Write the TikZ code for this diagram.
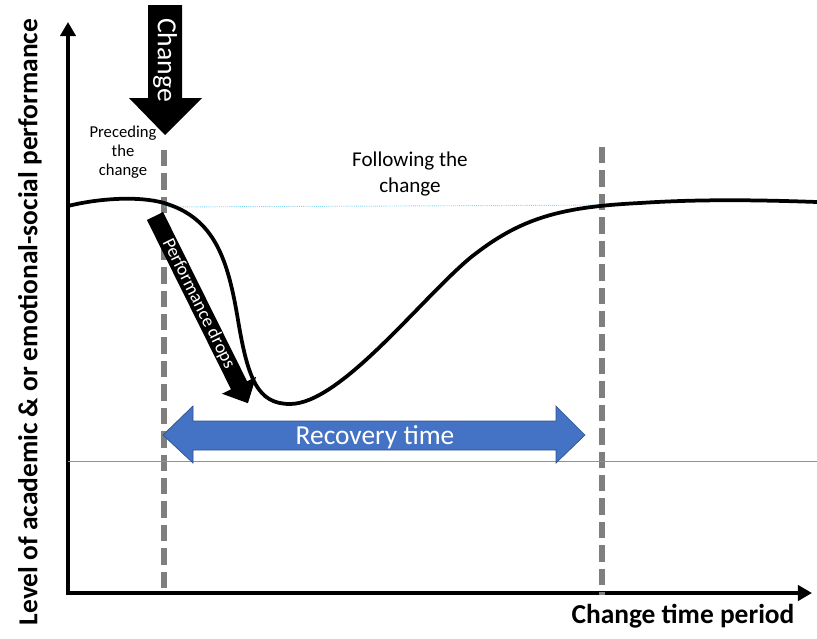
\documentclass[tikz,border=0pt]{standalone}
\usepackage{fontspec}
\setmainfont{Carlito}
\usetikzlibrary{arrows.meta}
\definecolor{recblue}{HTML}{4472C4}
\definecolor{recedge}{HTML}{2F528F}
\definecolor{guidegray}{HTML}{7F7F7F}
\definecolor{levelcyan}{HTML}{4BACC6}
\definecolor{startcyan}{HTML}{7FD3F2}
\begin{document}
\begin{tikzpicture}[x=0.03cm, y=-0.03cm,
	axis/.style={line width=4pt, -{Triangle[length=12pt,width=13pt]}},
	phase/.style={guidegray, line width=4.3pt, dash pattern=on 14pt off 6pt},
	bigtext/.style={font=\fontsize{23.4}{28}\selectfont},
	arrowtext/.style={text=white, inner sep=0pt}]
	\useasboundingbox (0,0) rectangle (817,638);

	\coordinate (origin) at (68,593);
	\coordinate (ytop) at (68,22);
	\coordinate (xend) at (812,593);
	\draw[axis] (68,595) -- (ytop);
	\draw[axis] (66,593) -- (xend);
	\node[bigtext, font=\bfseries\fontsize{23.4}{28}\selectfont, rotate=90] (ylabel) at (30,322) {Level of academic \& or emotional-social performance};
	\node[bigtext, font=\bfseries\fontsize{23.4}{28}\selectfont, anchor=base] (xlabel) at (683,623) {Change time period};

	\coordinate (before top) at (164,150);
	\coordinate (before bottom) at (164,595);
	\coordinate (after top) at (602,147);
	\coordinate (after bottom) at (602,595);
	\draw[phase] (before top) -- (before bottom);
	\draw[phase] (after top) -- (after bottom);

	\coordinate (start a) at (164,207);
	\coordinate (start b) at (622,205);
	\draw[startcyan, line width=0.8pt, densely dotted] (start a) -- (start b);
	\coordinate (low a) at (68,461);
	\coordinate (low b) at (817,461);
	\draw[levelcyan, line width=0.7pt] (low a) -- (low b);

	\draw[line width=3.2pt] (68,206) .. controls (100,198) and (140,196) .. (164,203)
		.. controls (215,218) and (228,260) .. (238,320)
		.. controls (248,380) and (258,404) .. (290,404)
		.. controls (340,404) and (420,300) .. (470,258)
		.. controls (520,218) and (560,207) .. (640,203)
		.. controls (700,199) and (760,200) .. (817,202);

	\fill[black] (148,5) -- (182,5) -- (182,98) -- (202,98) -- (165,135) -- (129,98) -- (148,98) -- cycle;
	\node[arrowtext, font=\fontsize{23.6}{28}\selectfont, rotate=-90] (change) at (165,60) {Change};

	\node[align=center, font=\fontsize{14.2}{16.5}\selectfont] (before) at (123,152) {Preceding\\the\\change};
	\node[align=center, font=\fontsize{18}{23}\selectfont] (after) at (410,174) {Following the\\change};

	\begin{scope}[shift={(155,216)}, rotate=-63.6]
		\fill[black] (0,-9) -- (189,-9) -- (189,-19) -- (209,0) -- (189,19) -- (189,9) -- (0,9) -- cycle;
		\node[arrowtext, font=\fontsize{15.7}{19}\selectfont, rotate=-63.6] (drops) at (98,0) {Performance drops};
	\end{scope}

	\filldraw[fill=recblue, draw=recedge, line width=0.6pt] (163,435) -- (193,406) -- (193,421) -- (556,421) -- (556,406) -- (585,435)
		-- (556,463) -- (556,450) -- (193,450) -- (193,463) -- cycle;
	\node[arrowtext, bigtext, anchor=base] (recovery) at (375,444) {Recovery time};
\end{tikzpicture}
\end{document}
